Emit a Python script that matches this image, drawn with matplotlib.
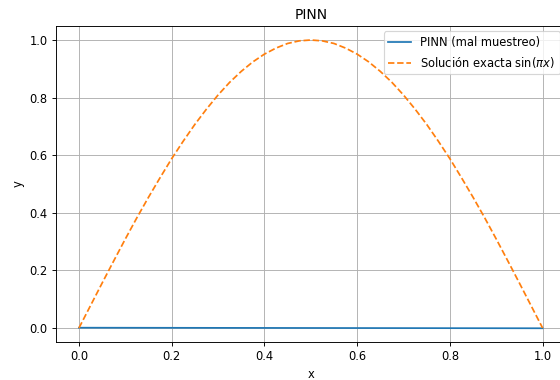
import matplotlib
matplotlib.use("Agg")
import matplotlib.pyplot as plt

x_exact = [0.0, 0.025, 0.05, 0.075, 0.1, 0.125, 0.15, 0.175, 0.2, 0.225,
           0.25, 0.275, 0.3, 0.325, 0.35, 0.375, 0.4, 0.425, 0.45, 0.475,
           0.5, 0.525, 0.55, 0.575, 0.6, 0.625, 0.65, 0.675, 0.7, 0.725,
           0.75, 0.775, 0.8, 0.825, 0.85, 0.875, 0.9, 0.925, 0.95, 0.975, 1.0]
y_exact = [0.0, 0.078, 0.156, 0.233, 0.309, 0.383, 0.454, 0.522, 0.588, 0.649,
           0.707, 0.760, 0.809, 0.853, 0.891, 0.924, 0.951, 0.972, 0.988, 0.997,
           1.0, 0.997, 0.988, 0.972, 0.951, 0.924, 0.891, 0.853, 0.809, 0.760,
           0.707, 0.649, 0.588, 0.522, 0.454, 0.383, 0.309, 0.233, 0.156, 0.078, 0.0]

# PINN prediction (stays almost flat at zero)
x_pinn = [0.0, 0.25, 0.5, 0.75, 1.0]
y_pinn = [0.001, 0.0005, 0.0, -0.0005, -0.001]

dpi = 83
fig = plt.figure(figsize=(560 / dpi, 380 / dpi), dpi=dpi)
ax = fig.add_axes([0.0996, 0.099, 0.9107, 0.8336])

ax.plot(x_pinn, y_pinn, label="PINN (mal muestreo)")
ax.plot(x_exact, y_exact, "--", label=r"Solución exacta sin($\pi x$)")

ax.set_xlim(-0.05, 1.05)
ax.set_ylim(-0.05, 1.05)
ax.set_title("PINN")
ax.set_xlabel("x")
ax.set_ylabel("y")
ax.grid(True)
ax.legend(loc="upper right")

fig.savefig("out.png", dpi=dpi)
